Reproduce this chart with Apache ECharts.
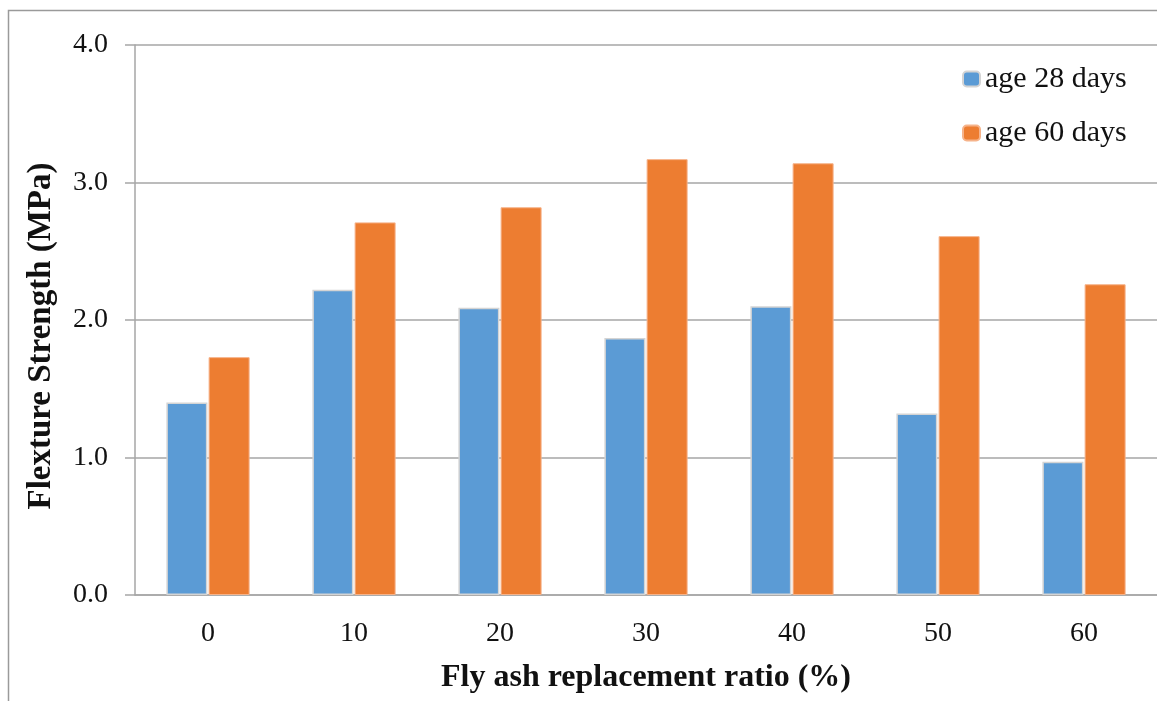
<!DOCTYPE html>
<html>
<head>
<meta charset="utf-8">
<script src="https://cdn.jsdelivr.net/npm/echarts@6/dist/echarts.min.js"></script>
<style>
html,body{margin:0;padding:0;background:#fff;}
#chart{width:1157px;height:701px;}
</style>
</head>
<body>
<div id="chart"></div>
<script>
const categories = ['0', '10', '20', '30', '40', '50', '60'];
const age28 = [1.40, 2.22, 2.09, 1.87, 2.10, 1.32, 0.97];
const age60 = [1.73, 2.71, 2.82, 3.17, 3.14, 2.61, 2.26];
const seriesNames = ['age 28 days', 'age 60 days'];
const xTitle = 'Fly ash replacement ratio (%)';
const yTitle = 'Flexture Strength (MPa)';

const FONT = "'Liberation Serif', 'Times New Roman', serif";
const chart = echarts.init(document.getElementById('chart'));
chart.setOption({
  backgroundColor: '#fff',
  animation: false,
  textStyle: { fontFamily: FONT, color: '#111' },
  graphic: [{
    type: 'rect', z: -10, silent: true,
    shape: { x: 8.5, y: 10.5, width: 1300, height: 900 },
    style: { fill: 'none', stroke: '#9a9a9a', lineWidth: 1.5 }
  }, {
    type: 'text', silent: true,
    x: 41, y: 336, rotation: Math.PI / 2,
    style: { text: yTitle, fontFamily: FONT, fontSize: 33, fontWeight: 'bold',
      fill: '#111', align: 'center', verticalAlign: 'middle' }
  }],
  grid: { left: 135, top: 45, bottom: 106, right: -6, containLabel: false },
  legend: {
    orient: 'vertical', left: 962, top: 64, padding: 0,
    itemWidth: 17, itemHeight: 15, itemGap: 24,
    textStyle: { fontFamily: FONT, fontSize: 30, color: '#111' },
    data: seriesNames
  },
  xAxis: {
    type: 'category', data: categories,
    name: xTitle, nameLocation: 'middle', nameGap: 67,
    nameTextStyle: { fontFamily: FONT, fontSize: 32, fontWeight: 'bold', color: '#111' },
    axisLine: { lineStyle: { color: '#a6a6a6', width: 1.5 } },
    axisTick: { show: false },
    axisLabel: { margin: 25, fontFamily: FONT, fontSize: 28, color: '#111' }
  },
  yAxis: {
    type: 'value', min: 0, max: 4, interval: 1,
    axisLine: { show: true, lineStyle: { color: '#a6a6a6', width: 1.5 } },
    axisTick: { show: true, inside: false, length: 10, lineStyle: { color: '#a6a6a6', width: 1.5 } },
    splitLine: { lineStyle: { color: '#a6a6a6', width: 1.5 } },
    axisLabel: { margin: 27, fontFamily: FONT, fontSize: 28, color: '#111',
      formatter: v => v.toFixed(1) }
  },
  series: [
    { name: seriesNames[0], type: 'bar', data: age28, barWidth: 41, barGap: '3%',
      itemStyle: { color: '#5B9BD5', borderColor: '#d4d4d4', borderWidth: 1.5 } },
    { name: seriesNames[1], type: 'bar', data: age60, barWidth: 41,
      itemStyle: { color: '#ED7D31', borderColor: '#f6b38a', borderWidth: 1 } }
  ]
});
</script>
</body>
</html>
